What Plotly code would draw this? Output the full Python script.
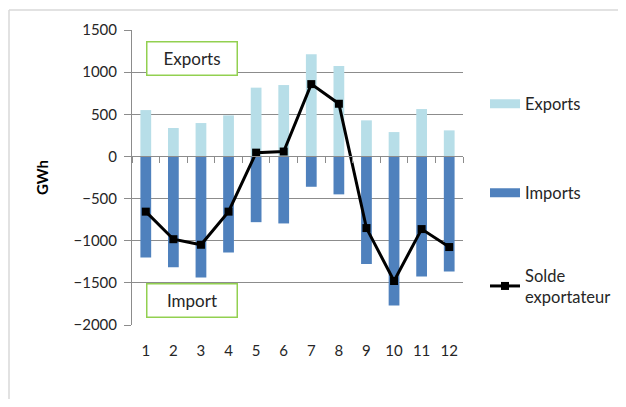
import plotly.graph_objects as go

months = [1, 2, 3, 4, 5, 6, 7, 8, 9, 10, 11, 12]
month_labels = ["1", "2", "3", "4", "5", "6", "7", "8", "9", "10", "11", "12"]
exports = [550, 337, 396, 487, 816, 847, 1211, 1073, 428, 289, 562, 309]
imports = [-1200, -1315, -1435, -1140, -780, -795, -360, -450, -1275, -1770, -1425, -1365]
solde = [-655, -982, -1048, -655, 45, 58, 858, 625, -850, -1478, -862, -1075]
y_ticks = [1500, 1000, 500, 0, -500, -1000, -1500, -2000]

FONT = "Lato, 'Liberation Sans', sans-serif"
TXT = "#262626"
GRID = "#8c8c8c"
C_EXP = "#B7DEE8"
C_IMP = "#4F81BD"

fig = go.Figure()
fig.add_trace(go.Bar(x=months, y=exports, marker=dict(color=C_EXP, line=dict(width=0)),
                     name="Exports", showlegend=False))
fig.add_trace(go.Bar(x=months, y=imports, marker=dict(color=C_IMP, line=dict(width=0)),
                     name="Imports", showlegend=False))
fig.add_trace(go.Scatter(x=months, y=solde, mode="lines+markers", name="Solde<br>exportateur",
                         line=dict(color="black", width=3),
                         marker=dict(symbol="square", size=8, color="black"),
                         showlegend=False))

# legend proxies
fig.add_trace(go.Scatter(x=[None], y=[None], mode="lines", name="Exports",
                         line=dict(color=C_EXP, width=9), legend="legend"))
fig.add_trace(go.Scatter(x=[None], y=[None], mode="lines", name="Imports",
                         line=dict(color=C_IMP, width=9), legend="legend2"))
fig.add_trace(go.Scatter(x=[None], y=[None], mode="lines+markers", name="Solde<br>exportateur",
                         line=dict(color="black", width=3),
                         marker=dict(symbol="square", size=8, color="black"), legend="legend3"))

# invisible trace on the zero-line axis so it is drawn
fig.add_trace(go.Scatter(x=[None], y=[None], xaxis="x2", showlegend=False, hoverinfo="skip"))

OFF = 8  # page body margin
W, H = 626 - 2 * OFF, 407 - 2 * OFF
L, T = 132 - OFF, 30 - OFF
R = W - (463 - OFF)
B = H - (325 - OFF)
pw, ph = W - L - R, H - T - B

def px(x):
    return (x - OFF - L) / pw

def py(y):
    return (H - B - (y - OFF)) / ph

legend_common = dict(font=dict(family=FONT, size=16.5, color=TXT), bgcolor="rgba(0,0,0,0)",
                     itemwidth=30, xanchor="left", yanchor="middle", tracegroupgap=0)

fig.update_layout(
    width=W, height=H,
    margin=dict(l=L, r=R, t=T, b=B, autoexpand=False),
    paper_bgcolor="white", plot_bgcolor="white",
    barmode="relative", bargap=0.61,
    font=dict(family=FONT, size=15, color=TXT),
    xaxis=dict(range=[0.5, 12.5], tickvals=months, ticktext=month_labels,
               showgrid=False, zeroline=False, showline=False, ticks="",
               ticklabelstandoff=15, tickfont=dict(family=FONT, size=15, color=TXT)),
    xaxis2=dict(range=[0.5, 12.5], overlaying="x", anchor="free",
                position=2000 / 3500, side="bottom",
                tickvals=[i + 0.5 for i in range(0, 13)], showticklabels=False,
                ticks="outside", ticklen=6, tickcolor=GRID, tickwidth=1,
                showline=True, linecolor=GRID, linewidth=1, showgrid=False, zeroline=False),
    yaxis=dict(range=[-2000, 1500], tickvals=y_ticks, showgrid=True, gridcolor=GRID, gridwidth=1,
               zeroline=False, showline=True, linecolor=GRID, linewidth=1,
               ticks="outside", ticklen=7, tickcolor=GRID, ticklabelstandoff=4,
               tickfont=dict(family=FONT, size=15, color=TXT)),
    legend=dict(x=px(485), y=py(104), **legend_common),
    legend2=dict(x=px(485), y=py(193), **legend_common),
    legend3=dict(x=px(485), y=py(286), **legend_common),
    showlegend=True,
)

fig.add_annotation(text="<b>GWh</b>", textangle=-90, xref="paper", yref="paper",
                   x=px(42), y=py(178), xanchor="center", yanchor="middle", showarrow=False,
                   font=dict(family=FONT, size=15, color="black"))

for label, cy in [("Exports", 58.5), ("Import", 300)]:
    fig.add_annotation(text=label, xref="paper", yref="paper", x=px(192), y=py(cy),
                       xanchor="center", yanchor="middle",
                       showarrow=False, width=87, height=30, borderpad=1,
                       bordercolor="#92D050", borderwidth=1.5, bgcolor="white",
                       font=dict(family=FONT, size=17, color=TXT))

# chart area frame (top and left edges only; the rest lies outside the picture)
frame = dict(color="#d9d9d9", width=1.5)
fig.add_shape(type="line", xref="paper", yref="paper",
              x0=px(9), x1=px(640), y0=py(10), y1=py(10), line=frame, layer="below")
fig.add_shape(type="line", xref="paper", yref="paper",
              x0=px(9), x1=px(9), y0=py(10), y1=py(420), line=frame, layer="below")

fig.write_html("out.html")
